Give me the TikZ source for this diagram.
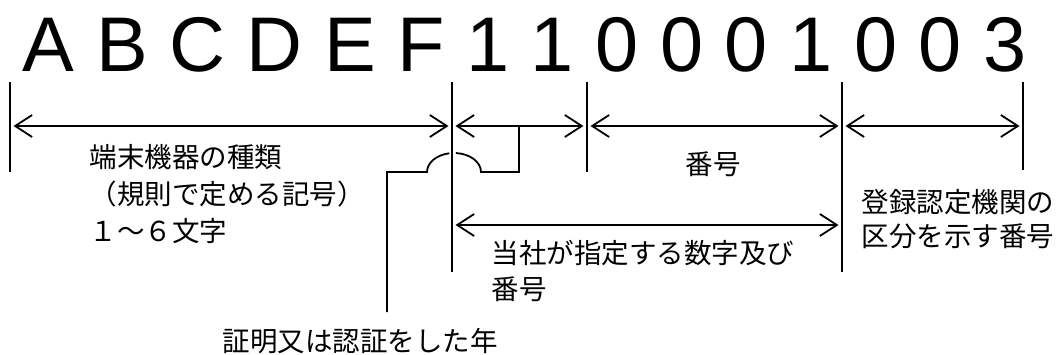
\documentclass[tikz,border=0pt]{standalone}
\usepackage{fontspec}
\setmainfont{Liberation Sans}
\newfontfamily\jpfont{Noto Sans CJK JP}
\usetikzlibrary{arrows.meta}

\begin{document}
\begin{tikzpicture}[x=1pt,y=1pt,line width=1.8pt,
  dim/.style={{Straight Barb[length=17pt,width=22pt]}-{Straight Barb[length=17pt,width=22pt]},
    shorten <=3.5pt,shorten >=3.5pt},
  lbl/.style={inner sep=0pt,align=left,font=\jpfont\fontsize{27.5}{37}\selectfont}]
\useasboundingbox (0,0) rectangle (1062,-354);
% the code itself
\node [inner sep=0pt,anchor=base west,font=\fontsize{77.5}{80}\selectfont] (code) at (22,-71) {A B C D E F 1 1 0 0 0 1 0 0 3};
% ticks under the code
\foreach \n/\x/\b in {a/10/172,b/452/272,c/587/172,d/842/272,e/1023/170} {
  \coordinate (\n1) at (\x,-82);
  \coordinate (\n2) at (\x,-\b);
  \coordinate (\n m) at (\x,-126);
  \draw (\n1) -- (\n2);
}
\coordinate (bl) at (452,-225);
\coordinate (dl) at (842,-225);
% dimension arrows
\draw [dim] (am) -- (bm);
\draw [dim] (bm) -- (cm);
\draw [dim] (cm) -- (dm);
\draw [dim] (dm) -- (em);
\draw [dim] (bl) -- (dl);
% leader to the year, jumping over the tick
\coordinate (yr1) at (519,-126);
\coordinate (yr2) at (387,-312);
\draw (yr1) |- (481,-172) arc[start angle=0,end angle=86,x radius=27,y radius=19];
\draw (yr2) |- (427,-172) arc[start angle=180,end angle=100,x radius=27,y radius=19];
% labels (base = last line)
\node [lbl,anchor=base west] (kind) at (89,-241) {端末機器の種類\\（規則で定める記号）\\１～６文字};
\node [lbl] (num) at (713,-164) {番号};
\node [lbl,anchor=base west,font=\jpfont\fontsize{27.5}{36}\selectfont] (maker) at (491,-299.5) {当社が指定する数字及び\\番号};
\node [lbl,anchor=base west,font=\jpfont\fontsize{27.5}{33.5}\selectfont] (body) at (861,-246) {登録認定機関の\\区分を示す番号};
\node [lbl] (year) at (360,-341.5) {証明又は認証をした年};
\end{tikzpicture}
\end{document}
